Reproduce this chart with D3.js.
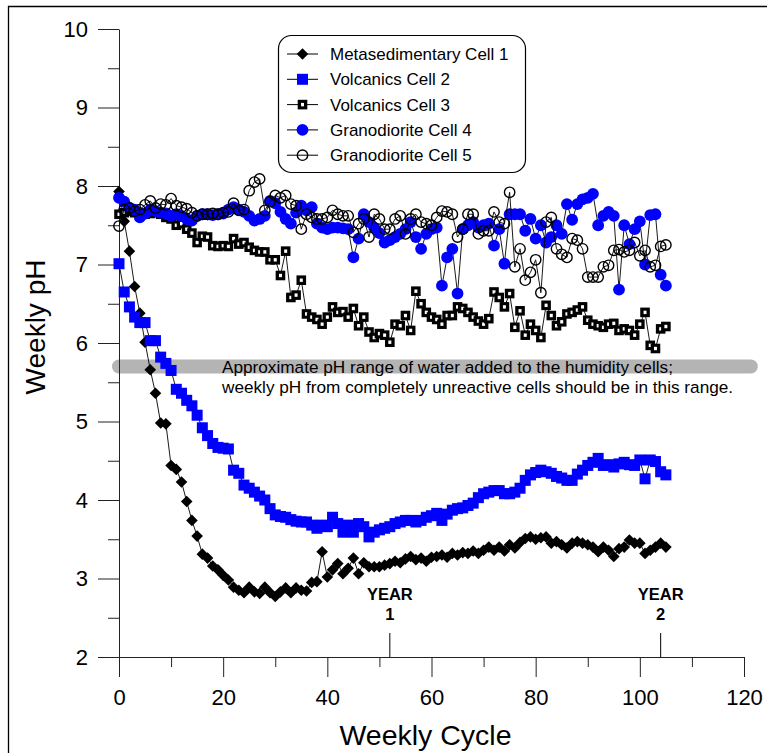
<!DOCTYPE html>
<html><head><meta charset="utf-8">
<script src="https://cdn.jsdelivr.net/npm/d3@7"></script>
<style>
html,body{margin:0;padding:0;background:#fff;}
svg{display:block;font-family:"Liberation Sans",Arial,sans-serif;}
</style></head><body>
<svg id="chart" width="767" height="753"></svg>
<script>
const weeks = d3.range(0, 106);
const cell1 = [7.93,7.55,7.17,6.72,6.38,6.01,5.66,5.36,4.98,4.97,
4.44,4.39,4.23,3.98,3.74,3.54,3.31,3.26,3.16,3.11,
3.04,2.98,2.89,2.85,2.82,2.89,2.83,2.81,2.89,2.82,
2.77,2.83,2.88,2.82,2.88,2.85,2.84,2.95,2.96,3.34,
3.02,3.11,3.19,3.06,3.13,3.26,3.06,3.20,3.15,3.15,
3.15,3.17,3.19,3.22,3.20,3.25,3.28,3.24,3.26,3.22,
3.27,3.28,3.30,3.27,3.32,3.30,3.33,3.32,3.35,3.32,
3.36,3.40,3.36,3.40,3.35,3.43,3.39,3.46,3.51,3.53,
3.50,3.52,3.53,3.45,3.47,3.43,3.39,3.45,3.47,3.45,
3.43,3.40,3.34,3.40,3.36,3.28,3.38,3.40,3.49,3.45,
3.45,3.32,3.36,3.40,3.45,3.40];
const cell2 = [7.01,6.65,6.46,6.33,6.26,6.26,6.03,6.03,5.82,5.74,
5.65,5.41,5.36,5.27,5.20,5.08,4.92,4.82,4.72,4.67,
4.66,4.65,4.38,4.34,4.19,4.15,4.10,4.05,4.00,3.89,
3.81,3.79,3.78,3.75,3.73,3.72,3.72,3.68,3.64,3.68,
3.66,3.78,3.70,3.59,3.68,3.59,3.70,3.66,3.53,3.59,
3.62,3.64,3.66,3.70,3.72,3.74,3.74,3.72,3.74,3.78,
3.80,3.83,3.74,3.82,3.87,3.89,3.90,3.93,3.96,4.03,
4.08,4.10,4.12,4.12,4.08,4.08,4.10,4.15,4.25,4.32,
4.35,4.38,4.36,4.34,4.30,4.28,4.25,4.25,4.33,4.38,
4.44,4.48,4.53,4.44,4.45,4.42,4.46,4.48,4.45,4.44,
4.51,4.27,4.51,4.49,4.36,4.32];
const cell3 = [7.64,7.66,7.68,7.66,7.65,7.64,7.65,7.66,7.64,7.60,
7.58,7.50,7.52,7.45,7.40,7.28,7.36,7.35,7.24,7.23,
7.24,7.23,7.33,7.26,7.28,7.22,7.18,7.16,7.16,7.06,
7.06,6.86,7.17,6.58,6.61,6.80,6.37,6.33,6.30,6.24,
6.33,6.46,6.39,6.40,6.33,6.44,6.22,6.33,6.14,6.07,
6.12,6.10,6.01,6.24,6.22,6.35,6.16,6.66,6.50,6.39,
6.33,6.30,6.24,6.35,6.35,6.46,6.44,6.39,6.33,6.28,
6.24,6.31,6.65,6.58,6.46,6.63,6.20,6.41,6.10,6.24,
6.16,6.07,6.48,6.35,6.22,6.27,6.37,6.39,6.42,6.46,
6.29,6.24,6.22,6.20,6.24,6.25,6.16,6.18,6.16,6.10,
6.24,6.39,5.97,5.93,6.18,6.21];
const cell4 = [7.85,7.80,7.72,7.70,7.60,7.65,7.70,7.68,7.66,7.65,
7.62,7.64,7.62,7.58,7.56,7.62,7.64,7.64,7.63,7.64,
7.65,7.70,7.73,7.70,7.67,7.62,7.56,7.58,7.62,7.81,
7.78,7.67,7.58,7.52,7.66,7.75,7.69,7.73,7.52,7.47,
7.45,7.47,7.47,7.46,7.45,7.09,7.33,7.64,7.54,7.47,
7.40,7.28,7.31,7.35,7.39,7.45,7.54,7.35,7.20,7.39,
7.45,7.47,6.73,7.09,7.20,6.63,7.45,7.50,7.54,7.47,
7.50,7.52,7.24,7.45,7.01,7.64,7.64,7.64,7.43,7.58,
7.33,7.50,7.28,7.35,7.50,7.39,7.77,7.57,7.77,7.83,
7.85,7.90,7.50,7.62,7.67,7.62,6.68,7.50,7.26,7.45,
7.55,7.00,7.63,7.64,6.87,6.73];
const cell5 = [7.49,7.70,7.72,7.68,7.70,7.76,7.81,7.72,7.77,7.76,
7.84,7.75,7.73,7.71,7.66,7.62,7.64,7.64,7.65,7.64,
7.66,7.67,7.78,7.69,7.70,7.94,8.05,8.09,7.69,7.80,
7.88,7.85,7.88,7.77,7.75,7.45,7.64,7.60,7.58,7.58,
7.60,7.69,7.64,7.62,7.62,7.41,7.52,7.58,7.35,7.64,
7.58,7.45,7.45,7.58,7.62,7.39,7.58,7.64,7.54,7.52,
7.50,7.60,7.68,7.67,7.64,7.35,7.45,7.64,7.64,7.39,
7.43,7.43,7.67,7.54,7.52,7.92,6.97,7.20,6.80,6.90,
7.06,6.64,7.54,7.60,7.20,7.13,7.09,7.33,7.31,7.20,
6.84,6.84,6.84,6.97,6.99,7.18,7.19,7.16,7.18,7.28,
7.11,7.18,6.97,6.99,7.23,7.25];
const seriesNames = ["Metasedimentary Cell 1","Volcanics Cell 2","Volcanics Cell 3","Granodiorite Cell 4","Granodiorite Cell 5"];
const xTicks = [0,20,40,60,80,100,120];
const xMinorTicks = [10,30,50,70,90,110];
const yTicks = [2,3,4,5,6,7,8,9,10];
const yMinorTicks = [2.5,3.5,4.5,5.5,6.5,7.5,8.5,9.5];
const yearWeeks = [52,104];
const yearLabels = ["1","2"];
const bandLow = 5.61, bandHigh = 5.79;
const bandText = ["Approximate pH range of water added to the humidity cells;","weekly pH from completely unreactive cells should be in this range."];

const svg = d3.select("#chart");
const x = d3.scaleLinear().domain([0,120]).range([119,744]);
const y = d3.scaleLinear().domain([2,10]).range([657,29]);

// frame
svg.append("path").attr("d","M8.5,753 V6.5 H767").attr("fill","none").attr("stroke","#000").attr("stroke-width",1.3);

// band
const bandMid = (bandLow+bandHigh)/2;
svg.append("line").attr("x1",x(0)).attr("x2",x(121.3))
  .attr("y1",y(bandMid)).attr("y2",y(bandMid))
  .attr("stroke","#b4b4b4").attr("stroke-width",y(bandLow)-y(bandHigh)).attr("stroke-linecap","round");
svg.append("g").selectAll("text").data(bandText).join("text")
  .attr("x",222).attr("y",(d,i)=>y(bandMid)+6+i*20)
  .attr("font-size",17.2).attr("fill","#000").text(d=>d);

// axes
const axisG = svg.append("g");
const xAx = axisG.append("g").attr("transform",`translate(0,${y(2)})`)
  .call(d3.axisBottom(x).tickValues(xTicks).tickSize(20).tickSizeOuter(0).tickPadding(12));
const xMin = axisG.append("g").attr("transform",`translate(0,${y(2)})`)
  .call(d3.axisBottom(x).tickValues(xMinorTicks).tickSize(10).tickFormat(""));
xMin.select(".domain").remove();
const yAx = axisG.append("g").attr("transform",`translate(${x(0)},0)`)
  .call(d3.axisLeft(y).tickValues(yTicks).tickSize(21).tickSizeOuter(0).tickPadding(10));
const yMin = axisG.append("g").attr("transform",`translate(${x(0)},0)`)
  .call(d3.axisLeft(y).tickValues(yMinorTicks).tickSize(11).tickFormat(""));
yMin.select(".domain").remove();
axisG.selectAll(".domain, .tick line").attr("stroke","#222").attr("stroke-width",1);
axisG.selectAll(".tick text").attr("font-size",22).attr("font-family","'Liberation Sans',Arial,sans-serif").attr("fill","#000");

// year markers
yearWeeks.forEach((w,i)=>{
  svg.append("line").attr("x1",x(w)).attr("x2",x(w)).attr("y1",y(2)-24).attr("y2",y(2)).attr("stroke","#000");
  svg.append("text").attr("x",x(w)).attr("y",600).attr("text-anchor","middle").attr("font-size",16.5).attr("font-weight","bold").text("YEAR");
  svg.append("text").attr("x",x(w)).attr("y",620).attr("text-anchor","middle").attr("font-size",16.5).attr("font-weight","bold").text(yearLabels[i]);
});

// axis titles
svg.append("text").attr("x",(x(0)+x(120))/2-6).attr("y",745).attr("text-anchor","middle").attr("font-size",28.5).text("Weekly Cycle");
svg.append("text").attr("transform",`translate(45,${327}) rotate(-90)`).attr("text-anchor","middle").attr("font-size",28).text("Weekly pH");

// marker drawers
function drawMarker(g, type){
  if(type===0){
    g.append("path").attr("d","M0,-5.8L5.8,0L0,5.8L-5.8,0Z").attr("fill","#000");
  } else if(type===1){
    g.append("rect").attr("x",-5.5).attr("y",-5.5).attr("width",11).attr("height",11).attr("fill","#0000ff");
  } else if(type===2){
    g.append("rect").attr("x",-4.8).attr("y",-4.8).attr("width",9.6).attr("height",9.6).attr("fill","#000");
    g.append("rect").attr("x",-1.5).attr("y",-1.7).attr("width",3).attr("height",3.4).attr("fill","#fff");
  } else if(type===3){
    g.append("circle").attr("r",5.9).attr("fill","#0000ff");
  } else {
    g.append("circle").attr("r",5.2).attr("fill","none").attr("stroke","#000").attr("stroke-width",1.4);
  }
}

const allSeries = [cell1,cell2,cell3,cell4,cell5];
const line = d3.line().x((d,i)=>x(weeks[i])).y(d=>y(d));
allSeries.forEach((vals,si)=>{
  const g = svg.append("g");
  g.append("path").datum(vals).attr("d",line).attr("fill","none").attr("stroke","#000").attr("stroke-width",0.9);
  vals.forEach((v,i)=>{
    const mg = g.append("g").attr("transform",`translate(${x(weeks[i])},${y(v)})`);
    drawMarker(mg, si);
  });
});

// legend
const leg = svg.append("g");
leg.append("rect").attr("x",278.5).attr("y",35.5).attr("width",247).attr("height",137).attr("rx",13)
  .attr("fill","#fff").attr("stroke","#000").attr("stroke-width",1.2);
seriesNames.forEach((name,i)=>{
  const ly = 54 + i*25.3;
  leg.append("line").attr("x1",287).attr("x2",318).attr("y1",ly).attr("y2",ly).attr("stroke","#000");
  const mg = leg.append("g").attr("transform",`translate(302.5,${ly})`);
  drawMarker(mg, i);
  leg.append("text").attr("x",330).attr("y",ly+6).attr("font-size",17).text(name);
});
</script>
</body></html>
